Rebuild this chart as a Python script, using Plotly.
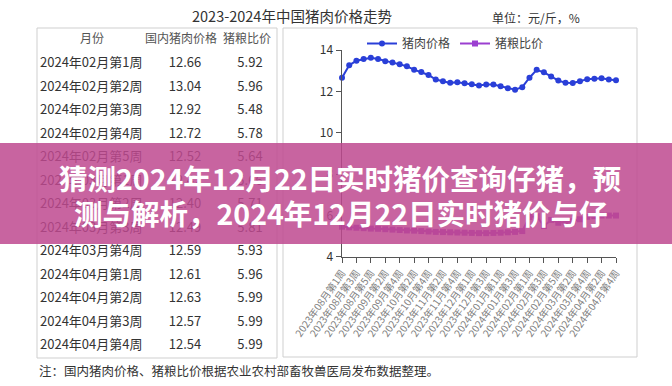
import plotly.graph_objects as go

W, H = 672, 386

# ---------------- data ----------------
weeks = [
    "2023年08月第1周", "2023年08月第2周", "2023年08月第3周", "2023年08月第4周", "2023年08月第5周",
    "2023年09月第1周", "2023年09月第2周", "2023年09月第3周", "2023年09月第4周",
    "2023年10月第1周", "2023年10月第2周", "2023年10月第3周", "2023年10月第4周",
    "2023年11月第1周", "2023年11月第2周", "2023年11月第3周", "2023年11月第4周", "2023年11月第5周",
    "2023年12月第1周", "2023年12月第2周", "2023年12月第3周", "2023年12月第4周",
    "2024年01月第1周", "2024年01月第2周", "2024年01月第3周", "2024年01月第4周",
    "2024年02月第1周", "2024年02月第2周", "2024年02月第3周", "2024年02月第4周", "2024年02月第5周",
    "2024年03月第1周", "2024年03月第2周", "2024年03月第3周", "2024年03月第4周",
    "2024年04月第1周", "2024年04月第2周", "2024年04月第3周", "2024年04月第4周",
]
pork_price = [
    12.66, 13.26, 13.48, 13.56, 13.62, 13.56, 13.46, 13.39, 13.31, 13.21,
    13.05, 12.93, 12.79, 12.57, 12.49, 12.41, 12.44, 12.39, 12.34, 12.28,
    12.33, 12.33, 12.25, 12.15, 12.08, 12.20, 12.66, 13.04, 12.92, 12.72,
    12.52, 12.42, 12.40, 12.49, 12.59, 12.61, 12.63, 12.57, 12.54,
]
pig_grain_ratio = [
    5.45, 5.42, 5.40, 5.38, 5.36, 5.35, 5.33, 5.31, 5.29, 5.27,
    5.26, 5.24, 5.22, 5.20, 5.19, 5.18, 5.17, 5.16, 5.15, 5.14,
    5.14, 5.15, 5.16, 5.18, 5.20, 5.24, 5.92, 5.96, 5.48, 5.78,
    5.64, 5.66, 5.71, 5.81, 5.93, 5.96, 5.99, 5.99, 5.99,
]
tick_labels = weeks[::2]

table_header = ["月份", "国内猪肉价格", "猪粮比价"]
table_weeks = [
    "2024年02月第1周", "2024年02月第2周", "2024年02月第3周", "2024年02月第4周", "2024年02月第5周",
    "2024年03月第1周", "2024年03月第2周", "2024年03月第3周", "2024年03月第4周",
    "2024年04月第1周", "2024年04月第2周", "2024年04月第3周", "2024年04月第4周",
]
table_price = [12.66, 13.04, 12.92, 12.72, 12.52, 12.42, 12.40, 12.49, 12.59, 12.61, 12.63, 12.57, 12.54]
table_ratio = [5.92, 5.96, 5.48, 5.78, 5.64, 5.66, 5.71, 5.81, 5.93, 5.96, 5.99, 5.99, 5.99]

title_text = "2023-2024年中国猪肉价格走势"
unit_text = "单位：元/斤，%"
note_text = "注：国内猪肉价格、猪粮比价根据农业农村部畜牧兽医局发布数据整理。"
banner_lines = ["猜测2024年12月22日实时猪价查询仔猪，预", "测与解析，2024年12月22日实时猪价与仔"]

FONT = "Noto Sans CJK SC"
BLUE = "#2a3fd8"
PURPLE = "#9b3fd0"

def py(px):  # pixel from top -> paper fraction
    return 1 - px / H

fig = go.Figure()

# ---------------- chart traces ----------------
fig.add_trace(go.Scatter(
    x=weeks, y=pork_price, mode="lines+markers", name="猪肉价格",
    line=dict(color=BLUE, width=2), marker=dict(symbol="circle", size=6, color=BLUE),
    cliponaxis=False, xaxis="x", yaxis="y",
))
fig.add_trace(go.Scatter(
    x=weeks, y=pig_grain_ratio, mode="lines+markers", name="猪粮比价",
    line=dict(color=PURPLE, width=2), marker=dict(symbol="square", size=6, color=PURPLE),
    cliponaxis=False, xaxis="x", yaxis="y",
))

# ---------------- table text (overlay pixel axes, beneath banner) ----------------
row_y0, row_dy = 64, 23.5
rows_y = [row_y0 + row_dy * i for i in range(len(table_weeks))]

fig.add_trace(go.Scatter(
    x=[92, 181, 247], y=[40, 40, 40], text=table_header, mode="text",
    textposition="middle center", textfont=dict(family=FONT, size=12, color="#555"),
    showlegend=False, hoverinfo="skip", xaxis="x2", yaxis="y2", cliponaxis=False,
))
fig.add_trace(go.Scatter(
    x=[40] * len(table_weeks), y=rows_y, text=table_weeks, mode="text",
    textposition="middle right", textfont=dict(family=FONT, size=13, color="#333"),
    showlegend=False, hoverinfo="skip", xaxis="x2", yaxis="y2", cliponaxis=False,
))
fig.add_trace(go.Scatter(
    x=[185] * len(table_price), y=rows_y, text=[f"{v:.2f}" for v in table_price], mode="text",
    textposition="middle center", textfont=dict(family=FONT, size=13, color="#333"),
    showlegend=False, hoverinfo="skip", xaxis="x2", yaxis="y2", cliponaxis=False,
))
fig.add_trace(go.Scatter(
    x=[250] * len(table_ratio), y=rows_y, text=[f"{v:.2f}" for v in table_ratio], mode="text",
    textposition="middle center", textfont=dict(family=FONT, size=13, color="#333"),
    showlegend=False, hoverinfo="skip", xaxis="x2", yaxis="y2", cliponaxis=False,
))

fig.update_layout(
    template="none",
    width=W, height=H, margin=dict(l=0, r=0, t=0, b=0, pad=0, autoexpand=False),
    paper_bgcolor="white", plot_bgcolor="rgba(0,0,0,0)",
    font=dict(family=FONT, color="#333"),
    hovermode=False,
    xaxis=dict(
        domain=[342 / W, 616 / W], type="category", range=[0, len(weeks) - 1],
        tickmode="array", tickvals=tick_labels, ticktext=tick_labels, tickangle=-55,
        tickfont=dict(family=FONT, size=10, color="#808080"),
        showline=True, linecolor="#555", linewidth=1.5, ticks="outside", ticklen=5, tickcolor="#555",
        showgrid=False, zeroline=False, anchor="y", automargin=False,
    ),
    yaxis=dict(
        domain=[py(256.7), py(50)], range=[4, 14], tick0=4, dtick=2, tickmode="linear",
        showline=True, linecolor="#555", linewidth=1.5, ticks="outside", ticklen=5, tickcolor="#555",
        tickfont=dict(family=FONT, size=12, color="#333"),
        showgrid=False, zeroline=False, anchor="x", automargin=False,
    ),
    xaxis2=dict(domain=[0, 1], range=[0, W], visible=False, anchor="y2", automargin=False),
    yaxis2=dict(domain=[0, 1], range=[H, 0], visible=False, anchor="x2", automargin=False),
    legend=dict(
        orientation="h", x=362 / W, y=py(29), xanchor="left", yanchor="top",
        font=dict(family=FONT, size=12, color="#444"), bgcolor="rgba(0,0,0,0)",
        itemwidth=30, tracegroupgap=0,
    ),
    shapes=[
        dict(type="rect", xref="paper", yref="paper", x0=37 / W, x1=277 / W, y0=py(358), y1=py(28),
             line=dict(color="#cfcfcf", width=1), layer="below"),
        dict(type="rect", xref="paper", yref="paper", x0=283 / W, x1=637 / W, y0=py(357), y1=py(28),
             line=dict(color="#cfcfcf", width=1), layer="below"),
        dict(type="rect", xref="paper", yref="paper", x0=0, x1=1, y0=py(244), y1=py(143),
             fillcolor="rgba(190,73,143,0.85)", line=dict(width=0), layer="above"),
    ],
    annotations=[
        dict(text=title_text, x=292 / W, y=py(15), xref="paper", yref="paper",
             xanchor="center", yanchor="middle", showarrow=False,
             font=dict(family=FONT, size=14.5, color="#333")),
        dict(text=unit_text, x=490 / W, y=py(17), xref="paper", yref="paper",
             xanchor="left", yanchor="middle", showarrow=False,
             font=dict(family=FONT, size=12, color="#333")),
        dict(text=note_text, x=37 / W, y=py(370), xref="paper", yref="paper",
             xanchor="left", yanchor="middle", showarrow=False,
             font=dict(family=FONT, size=12.5, color="#333")),
        dict(text=banner_lines[0], x=340 / W, y=py(177), xref="paper", yref="paper",
             xanchor="center", yanchor="middle", showarrow=False,
             font=dict(family=FONT, size=28.5, color="white", weight="bold")),
        dict(text=banner_lines[1], x=341 / W, y=py(213), xref="paper", yref="paper",
             xanchor="center", yanchor="middle", showarrow=False,
             font=dict(family=FONT, size=28.5, color="white", weight="bold")),
    ],
)

fig.write_html(
    "out.html",
    config={"displayModeBar": False, "staticPlot": True},
    post_script="document.body.style.margin='0';document.body.style.padding='0';",
)
